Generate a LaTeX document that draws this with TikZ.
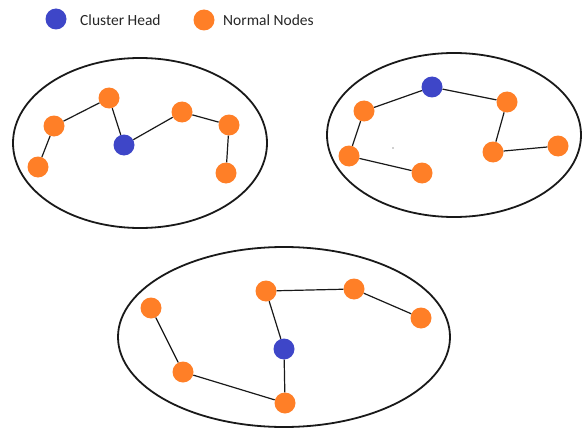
\documentclass[tikz,border=0pt]{standalone}
\usepackage{fontspec}
\setmainfont{Carlito}
\definecolor{chblue}{RGB}{62,70,200}
\definecolor{nnorange}{RGB}{255,127,39}
\begin{document}
\begin{tikzpicture}[x=1pt,y=-1pt,
  head/.style={circle,fill=chblue,minimum size=21pt,inner sep=0pt},
  normal/.style={circle,fill=nnorange,minimum size=21pt,inner sep=0pt},
  cluster/.style={draw=black!90,line width=1.8pt},
  link/.style={draw=black!90,line width=1.2pt},
  legend/.style={anchor=west,inner sep=0pt,font=\fontsize{15.5}{18}\selectfont,text=black!85}]
\useasboundingbox (0,0) rectangle (584,428);
% legend
\node[head] (lh) at (56,19) {};
\node[legend] (lht) at (80,20) {Cluster Head};
\node[normal] (ln) at (204,20) {};
\node[legend] (lnt) at (223,20) {Normal Nodes};
% clusters
\draw[cluster] (140,143) ellipse [x radius=127, y radius=85];
\draw[cluster] (454,135) ellipse [x radius=127, y radius=82];
\draw[cluster] (284,337) ellipse [x radius=166, y radius=90];
% cluster 1
\node[normal] (a1) at (38,167) {};
\node[normal] (a2) at (54,126) {};
\node[normal] (a3) at (109,98) {};
\node[head] (a4) at (124,145) {};
\node[normal] (a5) at (182,112) {};
\node[normal] (a6) at (229,125) {};
\node[normal] (a7) at (226,173) {};
\draw[link] (a1) -- (a2) -- (a3) -- (a4) -- (a5) -- (a6) -- (a7);
% cluster 2
\node[head] (b1) at (432,87) {};
\node[normal] (b2) at (364,111) {};
\node[normal] (b3) at (349,156) {};
\node[normal] (b4) at (422,173) {};
\node[normal] (b5) at (507,102) {};
\node[normal] (b6) at (493,152) {};
\node[normal] (b7) at (558,146) {};
\draw[link] (b4) -- (b3) -- (b2) -- (b1) -- (b5) -- (b6) -- (b7);
\fill[black!80] (393,148) circle (0.7);
% cluster 3
\node[normal] (c1) at (151,308) {};
\node[normal] (c2) at (183,372) {};
\node[normal] (c3) at (285,403) {};
\node[head] (c4) at (284,349) {};
\node[normal] (c5) at (266,291) {};
\node[normal] (c6) at (354,289) {};
\node[normal] (c7) at (421,318) {};
\draw[link] (c1) -- (c2) -- (c3) -- (c4) -- (c5) -- (c6) -- (c7);
\end{tikzpicture}
\end{document}
